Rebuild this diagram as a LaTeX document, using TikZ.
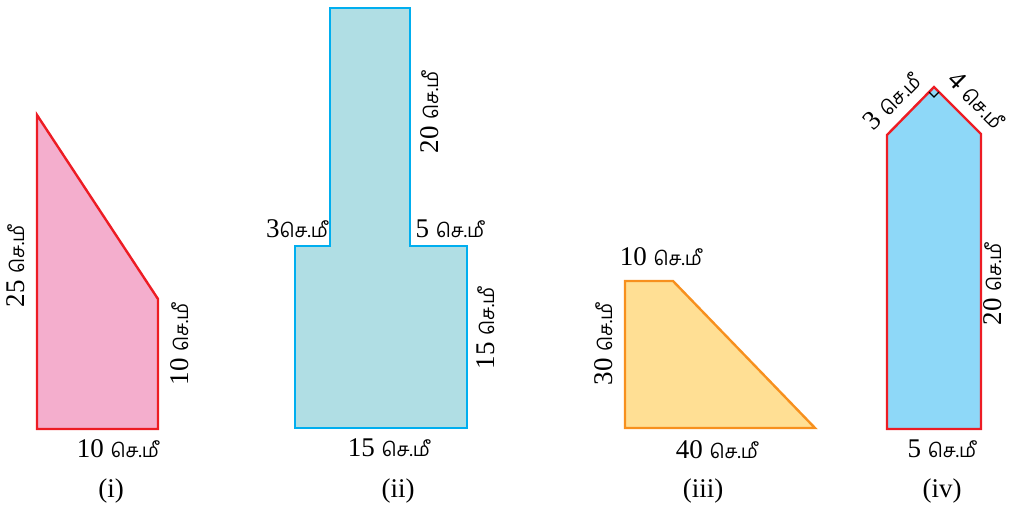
\documentclass[tikz,border=0pt]{standalone}
\usepackage{fontspec}
\setmainfont{Liberation Serif}
\newfontfamily\tamilfont[Script=Tamil]{Hind Madurai}
\newcommand{\cmu}{{\tamilfont\fontsize{19}{21}\selectfont செ.மீ}}
\definecolor{redline}{HTML}{ED1C24}
\definecolor{pinkfill}{HTML}{F4AECD}
\definecolor{blueline}{HTML}{00AEEF}
\definecolor{bluefill}{HTML}{B0DEE4}
\definecolor{orangeline}{HTML}{F7901E}
\definecolor{yellowfill}{HTML}{FFDF94}
\definecolor{skyfill}{HTML}{8ED8F8}
\tikzset{
  shape line/.style={line width=2.4pt, line join=miter},
  lbl/.style={inner sep=0pt, font=\fontsize{27}{30}\selectfont},
}
\begin{document}
\begin{tikzpicture}[x=1pt,y=-1pt]
\useasboundingbox (0,0) rectangle (1009,506);
% (i)
\draw[shape line, draw=redline, fill=pinkfill] (37,115) -- (37,429) -- (158,429) -- (158,299) -- cycle;
\node[lbl, rotate=90] (i25) at (16,266) {25 \cmu};
\node[lbl, rotate=90] (i10r) at (180,344) {10 \cmu};
\node[lbl] (i10b) at (118,449) {10 \cmu};
\node[lbl] (icap) at (111,491) {(i)};
% (ii)
\draw[shape line, draw=blueline, fill=bluefill] (330,8) -- (410,8) -- (410,246) -- (467,246) -- (467,428) -- (295,428) -- (295,246) -- (330,246) -- cycle;
\node[lbl, rotate=90] (ii20) at (430,112) {20 \cmu};
\node[lbl] (ii3) at (297,229) {3\cmu};
\node[lbl] (ii5) at (450,229) {5 \cmu};
\node[lbl, rotate=90] (ii15r) at (486,328) {15 \cmu};
\node[lbl] (ii15b) at (389,448) {15 \cmu};
\node[lbl] (iicap) at (398,491) {(ii)};
% (iii)
\draw[shape line, draw=orangeline, fill=yellowfill] (625,281) -- (673,281) -- (815,428) -- (625,428) -- cycle;
\node[lbl] (iii10) at (661,257) {10 \cmu};
\node[lbl, rotate=90] (iii30) at (604,344) {30 \cmu};
\node[lbl] (iii40) at (717,450) {40 \cmu};
\node[lbl] (iiicap) at (703,491) {(iii)};
% (iv)
\draw[shape line, draw=redline, fill=skyfill] (887,135) -- (934,87) -- (981,134) -- (981,429) -- (887,429) -- cycle;
\draw[line width=1.2pt] (929,92) -- (934,97) -- (939,92);
\node[lbl, rotate=45] (iv3) at (892,101) {3 \cmu};
\node[lbl, rotate=-45] (iv4) at (977,100) {4 \cmu};
\node[lbl, rotate=90] (iv20) at (993,284) {20 \cmu};
\node[lbl] (iv5) at (942,449) {5 \cmu};
\node[lbl] (ivcap) at (942,491) {(iv)};
\end{tikzpicture}
\end{document}
